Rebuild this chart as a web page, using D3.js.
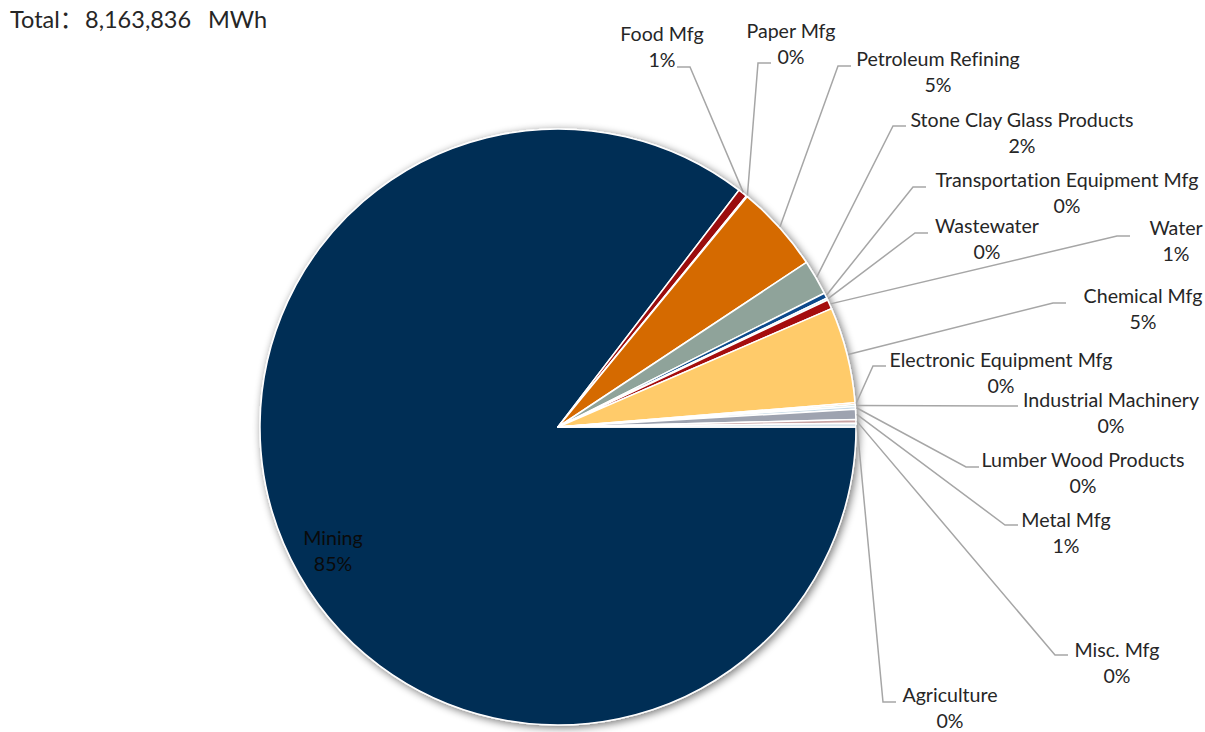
<!DOCTYPE html>
<html>
<head>
<meta charset="utf-8">
<script src="https://cdn.jsdelivr.net/npm/d3@7"></script>
<style>
  html, body { margin: 0; padding: 0; background: #fff; }
  svg { display: block; }
  text { font-variant-ligatures: none; font-feature-settings: "liga" 0; }
</style>
</head>
<body>
<svg id="chart" width="1205" height="732"></svg>
<script>
// ---- data ----
const categories = ["Mining", "Food Mfg", "Paper Mfg", "Petroleum Refining", "Stone Clay Glass Products",
  "Transportation Equipment Mfg", "Wastewater", "Water", "Chemical Mfg", "Electronic Equipment Mfg",
  "Industrial Machinery", "Lumber Wood Products", "Metal Mfg", "Misc. Mfg", "Agriculture"];
const valuesMWh = [6970554, 41500, 4082, 387782, 155113,
  24492, 8164, 41500, 424519, 8164,
  8164, 12246, 44901, 16328, 16327];
const sliceColors = ["#022D55", "#9B0D0D", "#7F7F7F", "#D56A00", "#8FA39A",
  "#0B4A8B", "#A5C8E1", "#A50E0E", "#FFCB6A", "#FF8A00",
  "#AACDC2", "#C5D9E6", "#9EA3B0", "#C9A5A5", "#D6E2EA"];
const totalWord = "Total";
const totalColon = "：";
const unitLabel = "MWh";

// ---- label layout (text centre, first baseline; leader elbow; horizontal direction) ----
const labelLayout = [
  { tx: 333, ty: 545, inside: true },
  { tx: 662, ty: 41, ex: 690, ey: 67, dir: -1 },
  { tx: 791, ty: 38, ex: 758, ey: 63, dir: 1 },
  { tx: 938, ty: 66, ex: 838, ey: 66, dir: 1 },
  { tx: 1022, ty: 127, ex: 893, ey: 126, dir: 1 },
  { tx: 1067, ty: 187, ex: 913, ey: 187, dir: 1 },
  { tx: 987, ty: 233, ex: 915, ey: 233, dir: 1 },
  { tx: 1176, ty: 235, ex: 1117, ey: 236, dir: 1 },
  { tx: 1143, ty: 303, ex: 1053, ey: 303, dir: 1 },
  { tx: 1001, ty: 367, ex: 873, ey: 366, dir: 1 },
  { tx: 1111, ty: 407, ex: 1005, ey: 406, dir: 1 },
  { tx: 1083, ty: 467, ex: 966, ey: 467, dir: 1 },
  { tx: 1066, ty: 527, ex: 1005, ey: 525, dir: 1 },
  { tx: 1117, ty: 657, ex: 1055, ey: 655, dir: 1 },
  { tx: 950, ty: 702, ex: 883, ey: 702, dir: 1 }
];

const svg = d3.select("#chart");
const cx = 558, cy = 427, R = 298;
const fontFamily = "Lato, 'Open Sans', sans-serif";

// fit label font so widths resemble the reference
const probe = svg.append("text").attr("font-family", fontFamily).attr("font-size", 100)
  .style("font-variant-ligatures", "none")
  .text("Transportation Equipment Mfg");
const probeW = probe.node().getComputedTextLength();
probe.remove();
const labelSize = Math.max(14, Math.min(24, 263 / probeW * 100));
const titleSize = labelSize * 1.2;

const total = d3.sum(valuesMWh);
const pct = d3.format(".0%");

// shadow filter
const defs = svg.append("defs");
const f = defs.append("filter").attr("id", "shadow").attr("x", "-10%").attr("y", "-10%")
  .attr("width", "120%").attr("height", "120%");
f.append("feGaussianBlur").attr("in", "SourceAlpha").attr("stdDeviation", 4).attr("result", "b");
f.append("feOffset").attr("in", "b").attr("dx", 2).attr("dy", 2).attr("result", "o");
f.append("feComponentTransfer").attr("in", "o").attr("result", "s")
  .append("feFuncA").attr("type", "linear").attr("slope", 0.55);
const m = f.append("feMerge");
m.append("feMergeNode").attr("in", "s");
m.append("feMergeNode").attr("in", "SourceGraphic");

const data = categories.map((c, i) => ({ name: c, value: valuesMWh[i], color: sliceColors[i], layout: labelLayout[i] }));

const pie = d3.pie().sort(null).value(d => d.value)
  .startAngle(Math.PI / 2).endAngle(Math.PI / 2 + 2 * Math.PI);
const arcs = pie(data);
const arc = d3.arc().innerRadius(0).outerRadius(R);

const g = svg.append("g").attr("transform", `translate(${cx},${cy})`);
g.append("g").attr("filter", "url(#shadow)")
  .selectAll("path").data(arcs).join("path")
  .attr("d", arc)
  .attr("fill", d => d.data.color)
  .attr("stroke", "#fff")
  .attr("stroke-width", 1.5)
  .attr("stroke-linejoin", "round");

// leader lines
const lines = svg.append("g").attr("fill", "none").attr("stroke", "#A6A6A6").attr("stroke-width", 1.5);
arcs.forEach(a => {
  const L = a.data.layout;
  if (L.inside) return;
  const mid = (a.startAngle + a.endAngle) / 2;
  const px = cx + Math.sin(mid) * (R + 1);
  const py = cy - Math.cos(mid) * (R + 1);
  const hx = L.ex + L.dir * 13;
  lines.append("path").attr("d", d3.line()([[px, py], [L.ex, L.ey], [hx, L.ey]]));
});

// labels
const labels = svg.append("g").attr("font-family", fontFamily).attr("font-size", labelSize)
  .attr("text-anchor", "middle");
arcs.forEach(a => {
  const L = a.data.layout;
  const t = labels.append("text").attr("fill", L.inside ? "#0a0a0a" : "#262626");
  t.append("tspan").attr("x", L.tx).attr("y", L.ty).text(a.data.name);
  t.append("tspan").attr("x", L.tx).attr("y", L.ty + 25.5).text(pct(a.data.value / total));
});

// total title
const title = svg.append("text").attr("font-family", fontFamily).attr("font-size", titleSize)
  .attr("fill", "#262626").attr("y", 28);
title.append("tspan").attr("x", 10).text(totalWord);
title.append("tspan").attr("font-family", "'Noto Sans CJK SC', sans-serif").text(totalColon);
title.append("tspan").attr("x", 85).text(d3.format(",")(total));
title.append("tspan").attr("x", 208).text(unitLabel);
</script>
</body>
</html>
